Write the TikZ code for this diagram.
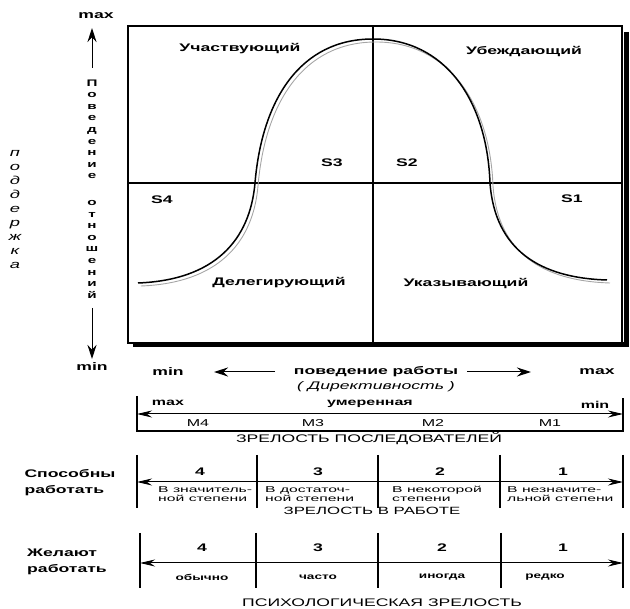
\documentclass[tikz,border=0pt]{standalone}
\usepackage{fontspec}
\setmainfont{Liberation Sans}[FakeStretch=1.6]
\newfontfamily\widefont{Liberation Sans}[FakeStretch=1.85]
\usetikzlibrary{arrows.meta}

\newcommand\bellpath{(138,283) .. controls (215,280) and (250,240) .. (255,183)
  .. controls (262,100) and (300,39) .. (373,39) .. controls (445,39) and (487,100) .. (490,183)
  .. controls (495,250) and (540,278) .. (607,280)}

\begin{document}
\begin{tikzpicture}[x=1pt, y=-1pt, font=\bfseries\fontsize{11}{13}\selectfont,
  sm/.style={font=\widefont\mdseries\fontsize{8.5}{9}\selectfont, inner sep=0pt},
  wd/.style={font=\bfseries\fontsize{8.5}{10}\selectfont, inner sep=0pt},
  rg/.style={font=\mdseries\fontsize{10}{12}\selectfont, inner sep=0pt},
  cp/.style={font=\mdseries\fontsize{11}{13}\selectfont, inner sep=0pt},
  lft/.style={align=left, font=\bfseries\fontsize{11}{16}\selectfont},
  bar/.style={line width=1.7pt},
  ax/.style={-{Stealth[length=14pt, width=9pt]}, line width=1pt},
  sc/.style={{Stealth[length=15pt, width=7pt]}-{Stealth[length=15pt, width=7pt]}, line width=1pt}]
\useasboundingbox (0,0) rectangle (630,609);
% quadrant box
\coordinate (nw) at (128,26); \coordinate (se) at (622,343);
\coordinate (mt) at (373,26); \coordinate (mb) at (373,343);
\coordinate (ml) at (128,183); \coordinate (mr) at (622,183);
\draw[line width=1.2pt] (nw) rectangle (se);
\draw[line width=5pt] (626,32) -- (626,345) -- (133,345);
\draw[line width=1.2pt] (mt) -- (mb); \draw[line width=1.2pt] (ml) -- (mr);
\draw[gray!70, line width=0.9pt, xshift=3pt, yshift=-3pt] \bellpath;
\draw[line width=1.5pt] \bellpath;
\node (q1) at (240,49) {Участвующий}; \node (q2) at (524,52) {Убеждающий};
\node (q3) at (279,283) {Делегирующий}; \node (q4) at (466,284) {Указывающий};
\node (s3) at (332,163) {S3}; \node (s2) at (407,163) {S2};
\node (s4) at (162,200) {S4}; \node (s1) at (572,199) {S1};
% vertical axis
\node (ymax) at (96,16) {max}; \node (ymin) at (92,367) {min};
\coordinate (ya) at (92,68); \coordinate (yt) at (92,28);
\coordinate (yb) at (92,308); \coordinate (yd) at (92,359);
\draw[ax] (ya) -- (yt); \draw[ax] (yb) -- (yd);
\node[font=\bfseries\fontsize{9.5}{11.6}\selectfont, align=center, inner sep=0pt] (rel) at (92,189)
  {П\\о\\в\\е\\д\\е\\н\\и\\е\\[15pt]о\\т\\н\\о\\ш\\е\\н\\и\\й};
\node[font=\itshape\mdseries\fontsize{11.5}{14}\selectfont, align=center, inner sep=0pt] (sup) at (15,210)
  {п\\о\\д\\д\\е\\р\\ж\\к\\а};
% task behaviour
\node (wmin) at (168,372) {min}; \node (wlab) at (376,372) {поведение работы};
\node (wmax) at (597,372) {max};
\node[font=\itshape\mdseries\fontsize{11}{13}\selectfont] (dir) at (376,387) {( Директивность )};
\coordinate (la) at (275,372); \coordinate (lt) at (214,372);
\coordinate (ra) at (467,372); \coordinate (rt) at (531,372);
\draw[ax] (la) -- (lt); \draw[ax] (ra) -- (rt);
% maturity of followers
\coordinate (m1) at (137,396); \coordinate (m2) at (137,431);
\coordinate (m3) at (623,431); \coordinate (m4) at (623,398);
\coordinate (ml1) at (137,414); \coordinate (mr1) at (623,414);
\draw[bar] (m1) -- (m2) -- (m3) -- (m4);
\draw[sc] (ml1) -- (mr1);
\node[rg, font=\bfseries\fontsize{10}{12}\selectfont] (mmax) at (168,403) {max};
\node[rg, font=\bfseries\fontsize{10}{12}\selectfont] (mmid) at (370,404) {умеренная};
\node[rg, font=\bfseries\fontsize{10}{12}\selectfont] (mmin) at (595,405) {min};
\node[rg] (mm4) at (198,423) {M4}; \node[rg] (mm3) at (313,423) {M3};
\node[rg] (mm2) at (433,423) {M2}; \node[rg] (mm1) at (550,423) {M1};
\node[cp] (mcap) at (369,439) {ЗРЕЛОСТЬ ПОСЛЕДОВАТЕЛЕЙ};
% ability
\node[lft] (abl) at (70,483) {Способны\\работать};
\foreach \x [count=\i] in {137,257,378,500,623} {
  \coordinate (at\i) at (\x,455); \coordinate (ab\i) at (\x,508);
  \draw[bar] (at\i) -- (ab\i);
}
\coordinate (al) at (137,482); \coordinate (ar) at (623,482);
\draw[sc] (al) -- (ar);
\node (a4) at (200,472) {4}; \node (a3) at (318,472) {3};
\node (a2) at (440,472) {2}; \node (a1) at (563,472) {1};
\node[sm, anchor=west, align=left] (at4) at (158,494) {В значитель-\\ной степени};
\node[sm, anchor=west, align=left] (at3) at (265,494) {В достаточ-\\ной степени};
\node[sm, anchor=west, align=left] (at2) at (392,494) {В некоторой\\степени};
\node[sm, anchor=west, align=left] (at1) at (507,494) {В незначите-\\льной степени};
\node[rg, font=\mdseries\fontsize{10.5}{12}\selectfont] (acap) at (372,511) {ЗРЕЛОСТЬ В РАБОТЕ};
% willingness
\node[lft] (wil) at (67,562) {Желают\\работать};
\foreach \x [count=\i] in {140,256,378,501,623} {
  \coordinate (wt\i) at (\x,533); \coordinate (wb\i) at (\x,588);
  \draw[bar] (wt\i) -- (wb\i);
}
\coordinate (wl) at (140,563); \coordinate (wr) at (623,563);
\draw[sc] (wl) -- (wr);
\node (w4) at (202,548) {4}; \node (w3) at (318,548) {3};
\node (w2) at (442,548) {2}; \node (w1) at (563,548) {1};
\node[wd] (wt4) at (202,577) {обычно}; \node[wd] (wt3) at (318,577) {часто};
\node[wd] (wt2) at (442,577) {иногда}; \node[wd] (wt1) at (545,577) {редко};
\node[cp] (wcap) at (382,603) {ПСИХОЛОГИЧЕСКАЯ ЗРЕЛОСТЬ};
\end{tikzpicture}
\end{document}
